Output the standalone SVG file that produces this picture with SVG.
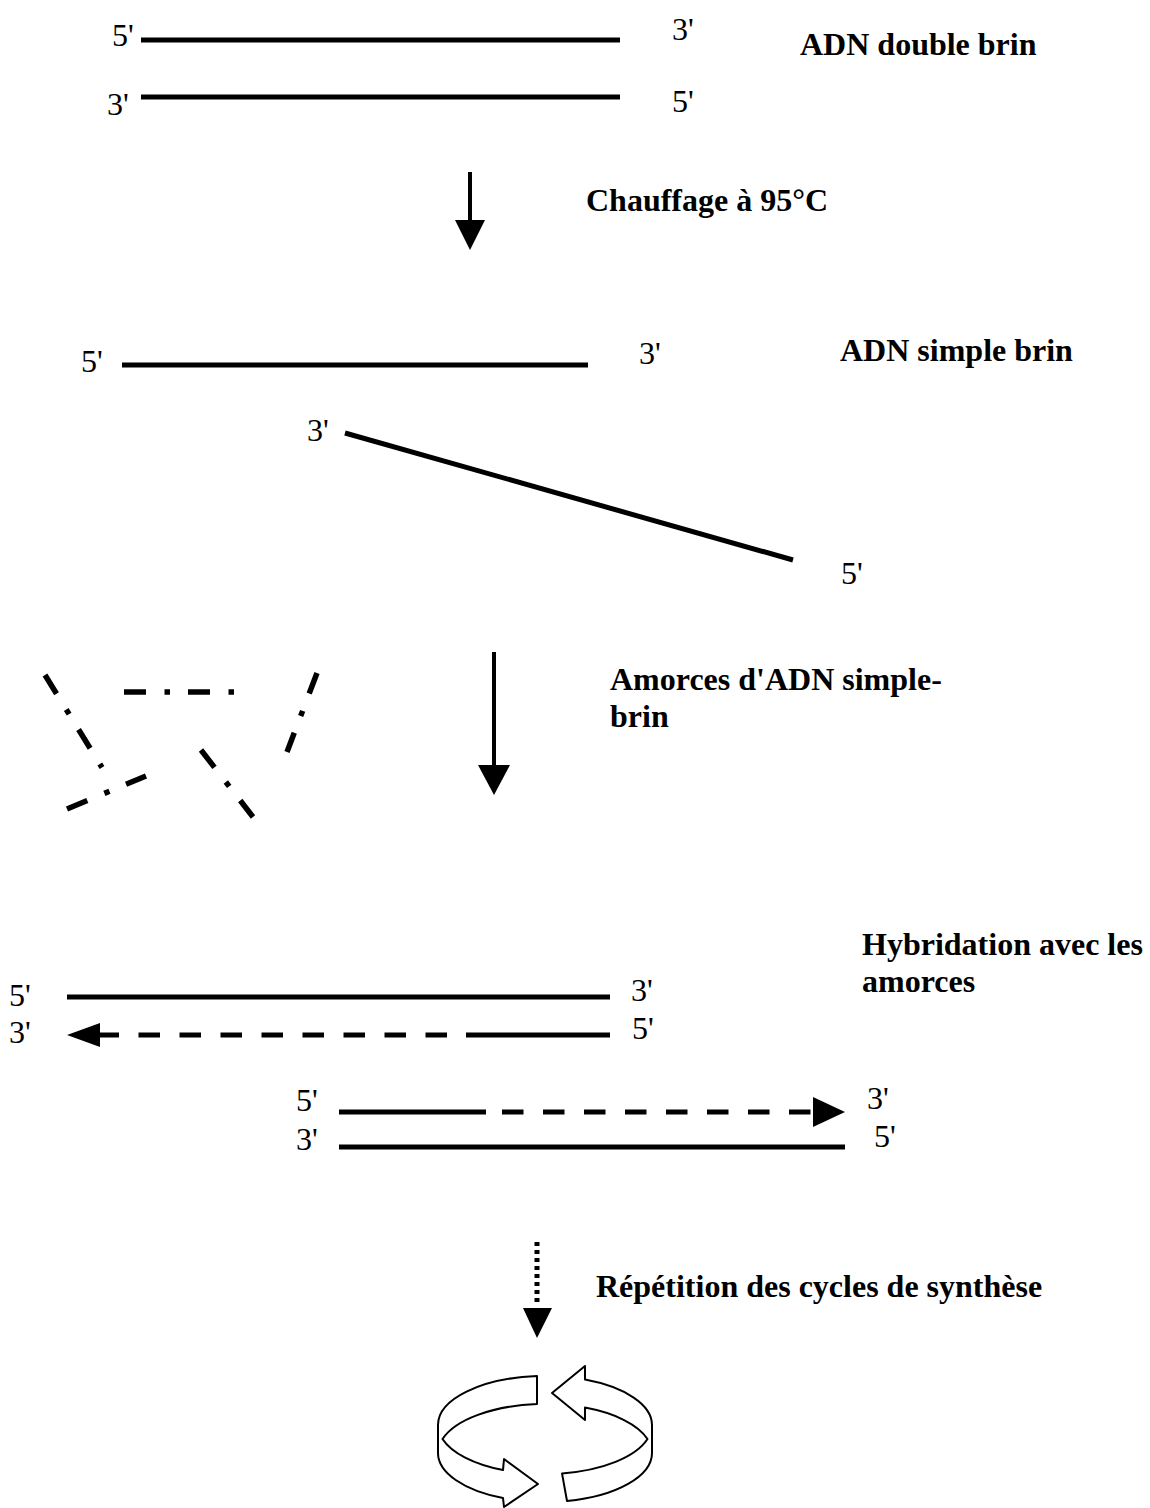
<svg xmlns="http://www.w3.org/2000/svg" width="1150" height="1508" viewBox="0 0 1150 1508">
  <style>
    .end { font-family: "Liberation Serif", "Times New Roman", serif; font-size: 32px; fill: #000; }
    .title { font-family: "Liberation Serif", "Times New Roman", serif; font-size: 32px; font-weight: bold; fill: #000; }
    .strand { stroke: #000; stroke-width: 5; fill: none; }
    .dash { stroke: #000; stroke-width: 5; fill: none; stroke-dasharray: 21.5 19.5; }
    .primer { stroke: #000; stroke-width: 5.5; fill: none; stroke-dasharray: 22 18.5 5.5 18; }
    .shaft { stroke: #000; stroke-width: 4; fill: none; }
    .head { fill: #000; }
    .ring { fill: #fff; stroke: #000; stroke-width: 2; stroke-linejoin: round; }
  </style>

  <!-- double-stranded DNA -->
  <g id="adn-double-brin">
    <line class="strand" x1="141" y1="40" x2="620" y2="40"/>
    <line class="strand" x1="141" y1="97" x2="620" y2="97"/>
    <text class="end" x="112" y="46">5'</text>
    <text class="end" x="672" y="40">3'</text>
    <text class="end" x="107" y="115">3'</text>
    <text class="end" x="672" y="112">5'</text>
    <text class="title" x="800" y="55">ADN double brin</text>
  </g>

  <g id="label-chauffage">
    <text class="title" x="586" y="211">Chauffage à 95°C</text>
  </g>

  <!-- separated single strands -->
  <g id="adn-simple-brin">
    <line class="strand" x1="122" y1="365" x2="588" y2="365"/>
    <line class="strand" x1="345" y1="433" x2="793" y2="560"/>
    <text class="end" x="81" y="372">5'</text>
    <text class="end" x="639" y="364">3'</text>
    <text class="end" x="307" y="441">3'</text>
    <text class="end" x="841" y="584">5'</text>
    <text class="title" x="840" y="361">ADN simple brin</text>
  </g>

  <!-- free primers -->
  <g id="amorces">
    <line class="primer" x1="124" y1="692" x2="234" y2="692"/>
    <line class="primer" x1="45" y1="675" x2="102" y2="767.5"/>
    <line class="primer" x1="317" y1="673" x2="287" y2="752"/>
    <line class="primer" x1="67" y1="809" x2="146" y2="776"/>
    <line class="primer" x1="201" y1="750" x2="253" y2="817"/>
  </g>

  <g id="label-amorces">
    <text class="title" x="610" y="690">Amorces d'ADN simple-</text>
    <text class="title" x="610" y="727">brin</text>
  </g>

  <!-- primers annealed and extended -->
  <g id="hybridation-1">
    <line class="strand" x1="67" y1="997" x2="610" y2="997"/>
    <line class="strand" x1="466" y1="1035" x2="610" y2="1035"/>
    <line class="dash" x1="447" y1="1035" x2="98" y2="1035"/>
    <polygon class="head" points="67,1035 100,1023 100,1047"/>
    <text class="end" x="9" y="1006">5'</text>
    <text class="end" x="631" y="1001">3'</text>
    <text class="end" x="9" y="1043">3'</text>
    <text class="end" x="632" y="1039">5'</text>
  </g>

  <g id="hybridation-2">
    <line class="strand" x1="339" y1="1112" x2="486" y2="1112"/>
    <line class="dash" x1="502" y1="1112" x2="816" y2="1112"/>
    <polygon class="head" points="845,1112 813,1097 813,1127"/>
    <line class="strand" x1="339" y1="1147" x2="845" y2="1147"/>
    <text class="end" x="296" y="1111">5'</text>
    <text class="end" x="867" y="1109">3'</text>
    <text class="end" x="296" y="1150">3'</text>
    <text class="end" x="874" y="1147">5'</text>
  </g>

  <g id="label-hybridation">
    <text class="title" x="862" y="955">Hybridation avec les</text>
    <text class="title" x="862" y="992">amorces</text>
  </g>

  <g id="label-repetition">
    <text class="title" x="596" y="1297">Répétition des cycles de synthèse</text>
  </g>

  <!-- cycling symbol: two arrows wrapped round an elliptical band -->
  <g id="cycle">
    <path class="ring" d="M 537 1376.1 A 107 49 0 0 0 438 1425 L 438 1453 A 107 49 0 0 0 503 1498.1 L 504 1507 L 538 1484 L 504 1459 L 503 1470.1 A 107 49 0 0 1 442.5 1439 A 107 49 0 0 1 537 1404.1 Z"/>
    <path class="ring" d="M 552 1393 L 585 1366 L 585 1379.6 A 107 49 0 0 1 652 1425 L 652 1453 A 107 49 0 0 1 567 1501 L 562 1473.4 A 107 49 0 0 0 647.5 1439 A 107 49 0 0 0 585 1407.6 L 585 1420 Z"/>
  </g>

  <!-- step arrows -->
  <g id="connecteurs">
    <line class="shaft" x1="470" y1="172" x2="470" y2="222"/>
    <polygon class="head" points="455,220 485,220 470,250"/>
    <line class="shaft" x1="494" y1="652" x2="494" y2="767"/>
    <polygon class="head" points="478,765 510,765 494,795"/>
    <line stroke="#000" stroke-width="5" stroke-dasharray="4 4" x1="537" y1="1242" x2="537" y2="1306"/>
    <polygon class="head" points="523,1308 552,1308 537,1338"/>
  </g>
</svg>
